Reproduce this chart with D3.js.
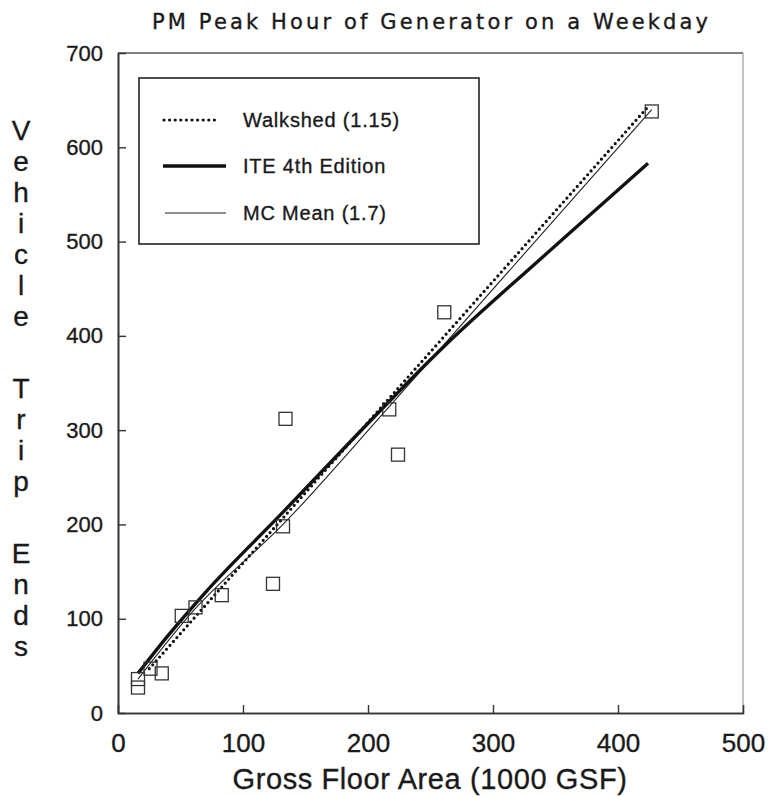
<!DOCTYPE html>
<html>
<head>
<meta charset="utf-8">
<script src="https://cdn.jsdelivr.net/npm/d3@7"></script>
<style>
  body { margin: 0; background: #fff; }
  svg { font-family: "Liberation Sans", Arial, sans-serif; }
  text { fill: #1a1a1a; stroke: #1a1a1a; stroke-width: 0.35px; }
</style>
</head>
<body>
<svg id="chart" width="771" height="797"></svg>
<script>
// observed sites (GSF in 1000s, trip ends)
var siteGsf   = [16, 16, 26, 35, 51, 62, 83, 124, 132, 134, 217, 224, 261, 427];
var siteTrips = [27, 36, 47, 42, 103, 112, 125, 137, 198, 312, 322, 274, 425, 638];

// fitted lines
var walkGsf = [25, 424];
var walkTrips = [47, 643];
var iteGsf = [16, 40, 70, 132, 186, 261, 340, 424];
var iteTrips = [42, 82, 128, 213, 288, 389, 484, 583];
var mcGsf = [16, 60, 132, 217, 427];
var mcTrips = [36, 108, 200, 325, 640];

var legendNames = ["Walkshed (1.15)", "ITE 4th Edition", "MC Mean (1.7)"];
var xTicks = [0, 100, 200, 300, 400, 500];
var yTicks = [0, 100, 200, 300, 400, 500, 600, 700];
var yTitleWords = ["Vehicle", "Trip", "Ends"];

var svg = d3.select("#chart");

var x = d3.scaleLinear().domain([0, 500]).range([118, 743]);
var y = d3.scaleLinear().domain([0, 700]).range([713, 53]);

// frame - top/right fainter than the axes
svg.append("line").attr("x1", x(0)).attr("x2", x(500)).attr("y1", y(700)).attr("y2", y(700))
  .attr("stroke", "#555").attr("stroke-width", 1.3);
svg.append("line").attr("x1", x(500)).attr("x2", x(500)).attr("y1", y(700)).attr("y2", y(0))
  .attr("stroke", "#888").attr("stroke-width", 1);

// axes
var xAxis = svg.append("g").attr("transform", "translate(0," + y(0) + ")")
  .call(d3.axisBottom(x).tickValues(xTicks).tickSize(0).tickPadding(21).tickFormat(d3.format("d")));
svg.append("g").attr("transform", "translate(0," + y(0) + ")")
  .call(d3.axisBottom(x).tickValues(xTicks.slice(1, 5)).tickSize(-8).tickFormat(""));
var yAxis = svg.append("g").attr("transform", "translate(" + x(0) + ",0)")
  .call(d3.axisLeft(y).tickValues(yTicks).tickSize(0).tickPadding(15).tickFormat(d3.format("d")));
svg.append("g").attr("transform", "translate(" + x(0) + ",0)")
  .call(d3.axisLeft(y).tickValues(yTicks.slice(1, 7)).tickSize(-8).tickFormat(""));

svg.selectAll(".domain").attr("stroke", "#333").attr("stroke-width", 1.6);
svg.selectAll(".tick line").attr("stroke", "#333").attr("stroke-width", 1.4);
xAxis.selectAll("text").attr("font-size", 26).attr("fill", "#1a1a1a");
yAxis.selectAll("text").attr("font-size", 22).attr("fill", "#1a1a1a");

// lines
function pairs(xs, ys) { return xs.map(function(v, i) { return [v, ys[i]]; }); }
var line = d3.line().x(function(d) { return x(d[0]); }).y(function(d) { return y(d[1]); });
var smooth = d3.line().curve(d3.curveMonotoneX).x(function(d) { return x(d[0]); }).y(function(d) { return y(d[1]); });

svg.append("path").attr("d", smooth(pairs(mcGsf, mcTrips)))
  .attr("fill", "none").attr("stroke", "#222").attr("stroke-width", 1.1);
svg.append("path").attr("d", smooth(pairs(iteGsf, iteTrips)))
  .attr("fill", "none").attr("stroke", "#111").attr("stroke-width", 3.4);
svg.append("path").attr("d", line(pairs(walkGsf, walkTrips)))
  .attr("fill", "none").attr("stroke", "#111").attr("stroke-width", 3.2)
  .attr("stroke-linecap", "round").attr("stroke-dasharray", "0,5.2");

// site squares
svg.append("g").selectAll("rect").data(pairs(siteGsf, siteTrips)).enter().append("rect")
  .attr("x", function(d) { return x(d[0]) - 6.5; })
  .attr("y", function(d) { return y(d[1]) - 6.5; })
  .attr("width", 13).attr("height", 13)
  .attr("fill", "none").attr("stroke", "#333").attr("stroke-width", 1.3);

// legend
var leg = svg.append("g");
leg.append("rect").attr("x", 139).attr("y", 78).attr("width", 340).attr("height", 166)
  .attr("fill", "#fff").attr("stroke", "#222").attr("stroke-width", 1.6);
var legY = [120, 166, 213];
leg.append("line").attr("x1", 164).attr("x2", 216).attr("y1", legY[0]).attr("y2", legY[0])
  .attr("stroke", "#111").attr("stroke-width", 3.2).attr("stroke-linecap", "round").attr("stroke-dasharray", "0,5.6");
leg.append("line").attr("x1", 163).attr("x2", 226).attr("y1", legY[1]).attr("y2", legY[1])
  .attr("stroke", "#111").attr("stroke-width", 3.6);
leg.append("line").attr("x1", 165).attr("x2", 226).attr("y1", legY[2]).attr("y2", legY[2])
  .attr("stroke", "#222").attr("stroke-width", 1.1);
leg.selectAll("text.lg").data(legendNames).enter().append("text")
  .attr("x", 243).attr("y", function(d, i) { return legY[i]; })
  .attr("dy", "0.36em").attr("font-size", 20).attr("letter-spacing", 0.8)
  .text(function(d) { return d; });

// titles
svg.append("text").attr("x", 430).attr("y", 29).attr("text-anchor", "middle")
  .attr("font-family", "'DejaVu Sans', sans-serif").attr("font-size", 21)
  .attr("textLength", 556).attr("lengthAdjust", "spacing").attr("stroke-width", 0.2)
  .text("PM Peak Hour of Generator on a Weekday");
svg.append("text").attr("x", 430).attr("y", 789).attr("text-anchor", "middle")
  .attr("font-size", 29).attr("letter-spacing", 0.6)
  .text("Gross Floor Area (1000 GSF)");

// stacked y title, one letter per row
var yt = svg.append("text").attr("font-size", 28).attr("text-anchor", "middle");
var row = 0;
yTitleWords.forEach(function(w, wi) {
  w.split("").forEach(function(ch) {
    yt.append("tspan").attr("x", 21).attr("y", 140 + row * 31 + wi * 41).text(ch);
    row++;
  });
});
</script>
</body>
</html>
